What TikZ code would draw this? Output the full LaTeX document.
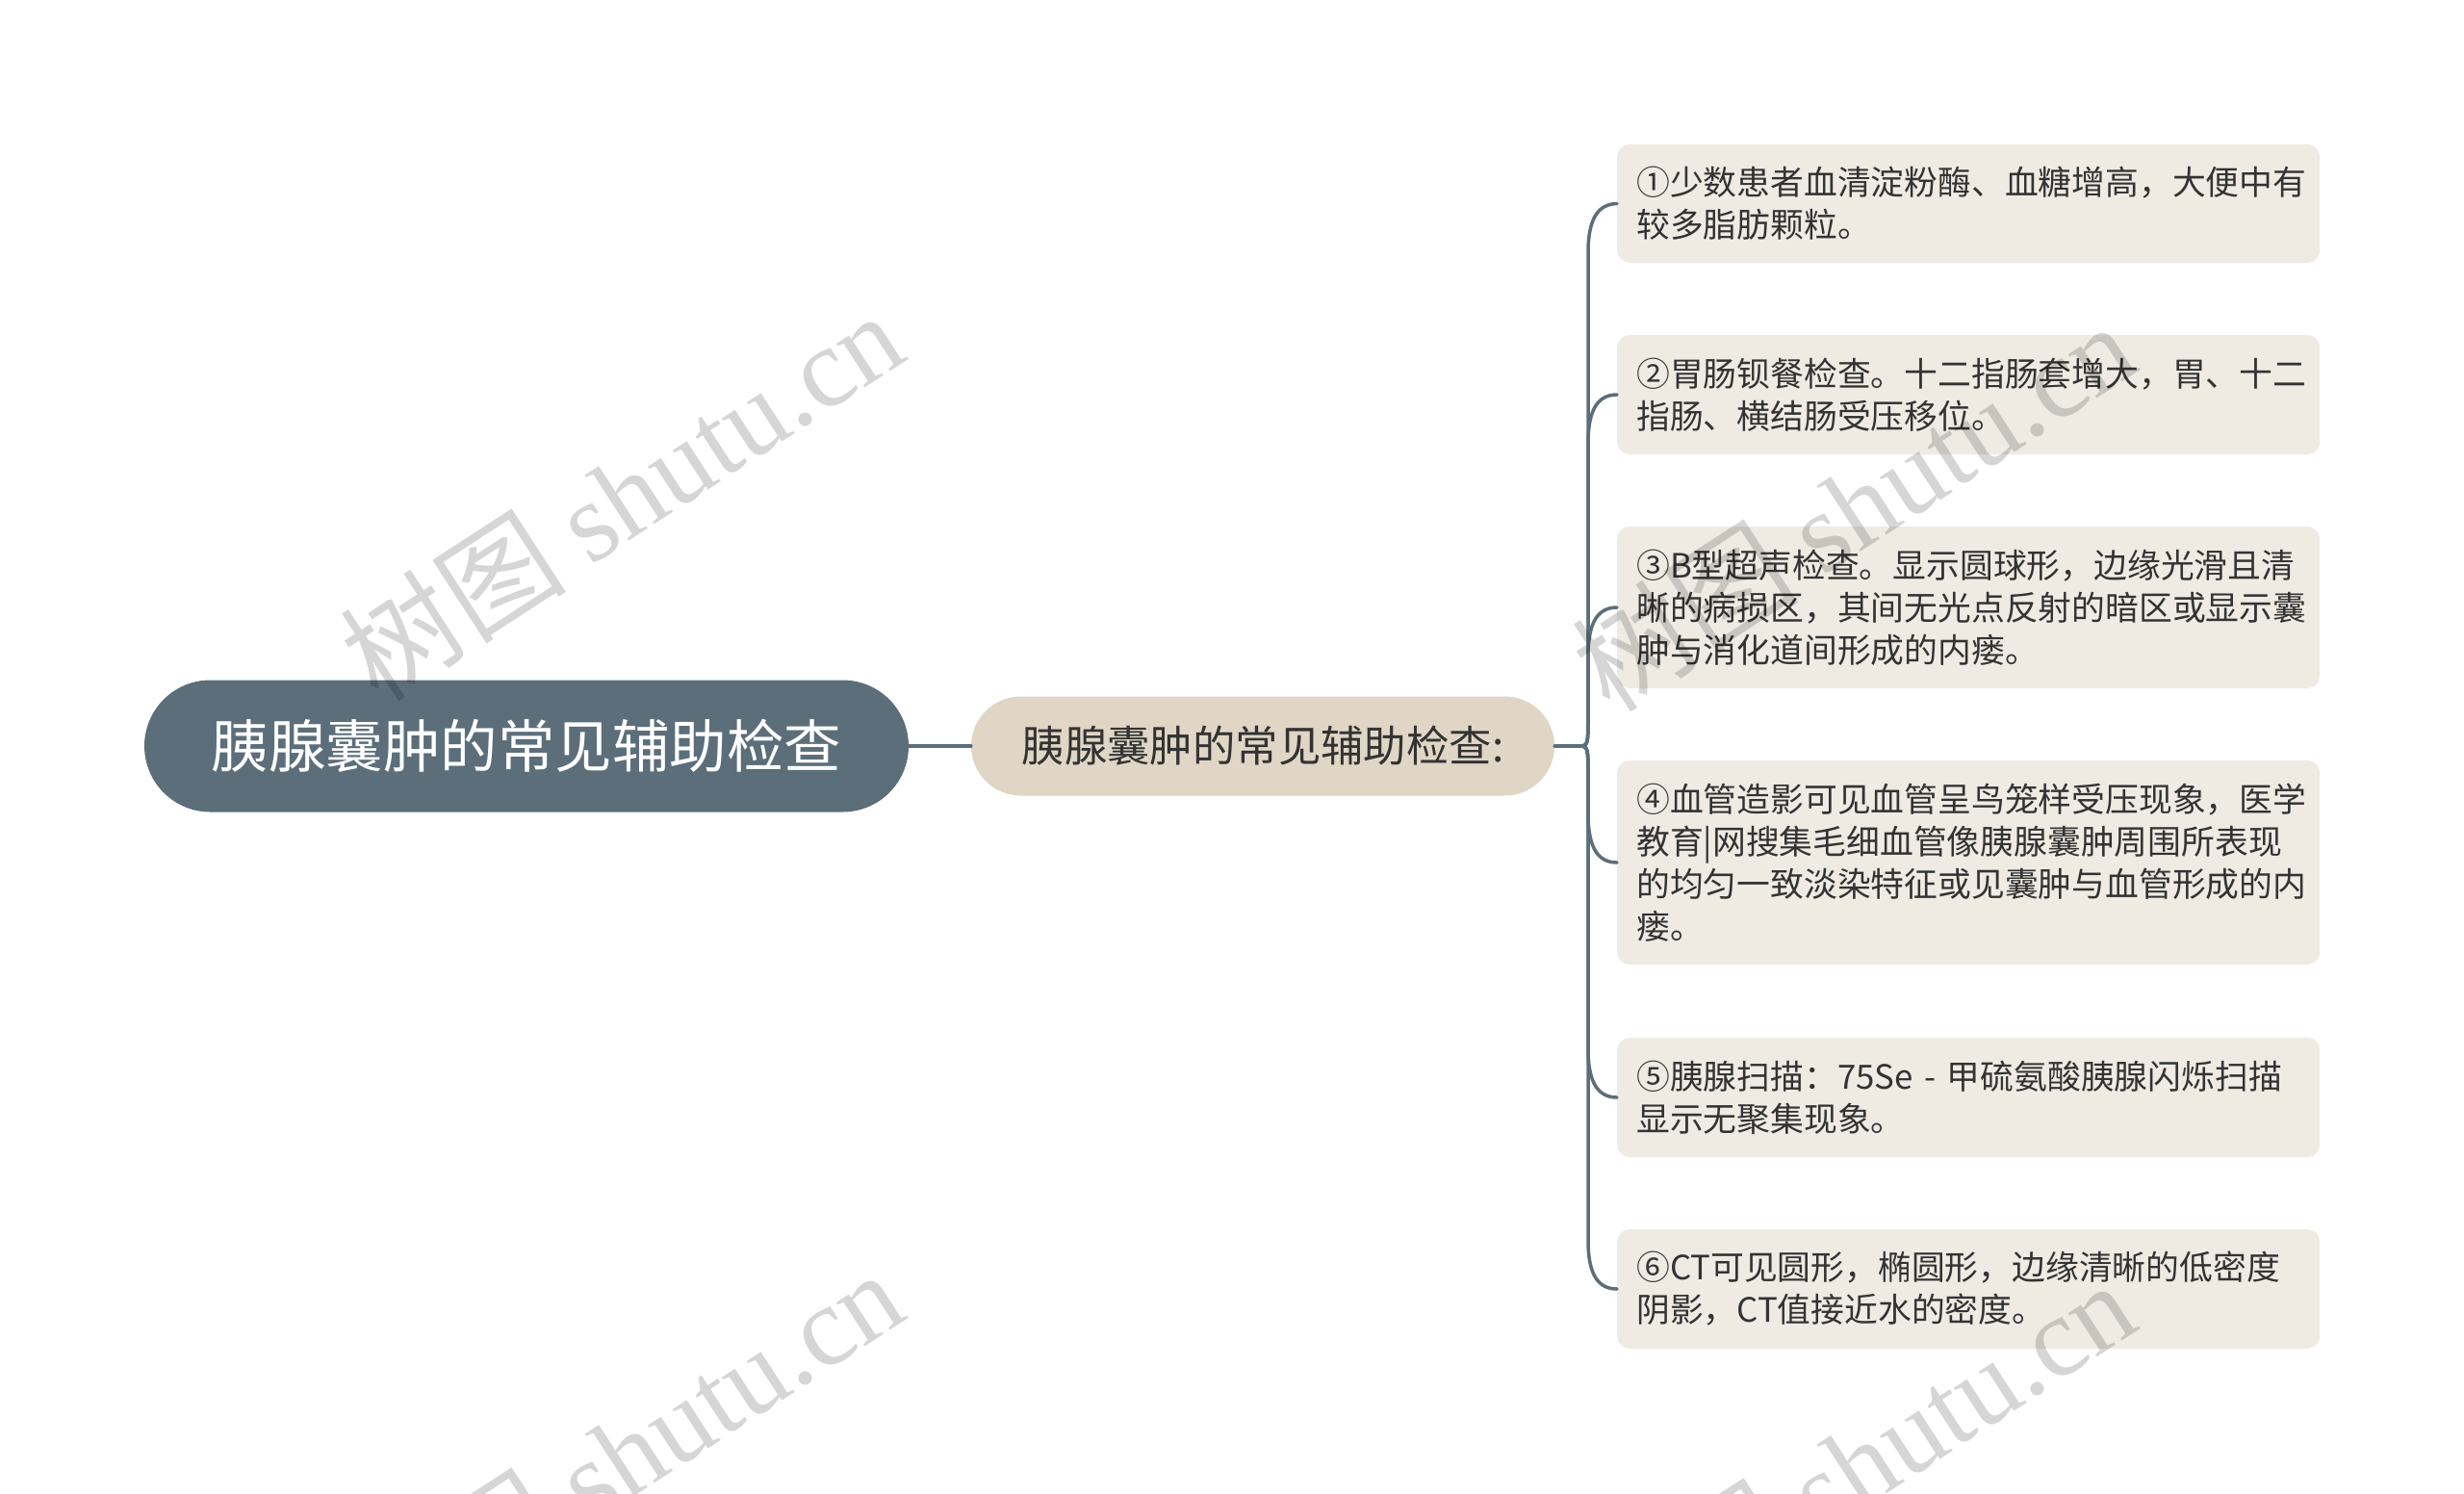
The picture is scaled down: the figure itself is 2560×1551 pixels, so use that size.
\documentclass[tikz,border=0pt]{standalone}
\usepackage{fontspec}
\setmainfont{Noto Sans CJK SC}
\newfontfamily\wmlatin{Liberation Serif}
\usetikzlibrary{shapes.misc}
\definecolor{rootc}{HTML}{5B6E7A}
\definecolor{subc}{HTML}{E0D6C5}
\definecolor{leafc}{HTML}{EFEBE3}
\definecolor{linec}{HTML}{5B6E7A}
\definecolor{txtc}{HTML}{333333}
\begin{document}
\begin{tikzpicture}[x=1pt,y=-1pt,
  rootbox/.style={rounded rectangle, fill=rootc, text=white, minimum width=794pt, minimum height=137pt, inner sep=0pt, font=\fontsize{59.5}{70}\selectfont},
  subbox/.style={rounded rectangle, fill=subc, text=txtc, minimum width=606pt, minimum height=103pt, inner sep=0pt, font=\fontsize{44.4}{52}\selectfont},
  leafbox/.style={rectangle, rounded corners=13pt, fill=leafc, text=txtc, anchor=west, align=left, text width=690pt, inner xsep=20pt, inner ysep=0pt, font=\fontsize{34.8}{44}\selectfont},
  conn/.style={draw=linec, line width=3.5pt, line cap=round},
  wm/.style={rotate=33, text=black, opacity=0.16, font=\fontsize{118}{120}\selectfont}]
\useasboundingbox (0,0) rectangle (2560,1551);
\fill[white] (0,0) rectangle (2560,1551);

\node[rootbox] (root) at (547,775) {胰腺囊肿的常见辅助检查};
\node[subbox] (sub) at (1312,775) {胰腺囊肿的常见辅助检查:};

\node[leafbox, minimum height=123pt] (l1) at (1680,211.5) {①少数患者血清淀粉酶、血糖增高，大便中有\\较多脂肪颗粒。};
\node[leafbox, minimum height=124pt] (l2) at (1680,410) {②胃肠钡餐检查。十二指肠套增大，胃、十二\\指肠、横结肠受压移位。};
\node[leafbox, minimum height=168pt] (l3) at (1680,631) {③B型超声检查。显示圆球形，边缘光滑且清\\晰的病损区，其间无光点反射的暗区或显示囊\\肿与消化道间形成的内瘘。};
\node[leafbox, minimum height=212pt] (l4) at (1680,896) {④血管造影可见血管呈鸟笼样受压现象，医学\\教育|网搜集毛细血管像胰腺囊肿周围所表现\\的均匀一致淡染特征或见囊肿与血管形成的内\\瘘。};
\node[leafbox, minimum height=124pt] (l5) at (1680,1140) {⑤胰腺扫描：75Se - 甲硫氨酸胰腺闪烁扫描\\显示无聚集现象。};
\node[leafbox, minimum height=124pt] (l6) at (1680,1339) {⑥CT可见圆形，椭圆形，边缘清晰的低密度\\阴影，CT值接近水的密度。};

\coordinate (J) at (1640,775);
\draw[conn] (root.east) -- (sub.west);
\draw[conn] (sub.east) -- (J);
\draw[conn] (J) .. controls (1650,775) .. (1650,740) -- (1650,262) .. controls (1650,226) and (1661,212) .. (l1.west);
\draw[conn] (J) .. controls (1650,775) .. (1650,740) -- (1650,460) .. controls (1650,424) and (1661,410) .. (l2.west);
\draw[conn] (J) .. controls (1650,775) .. (1650,740) -- (1650,681) .. controls (1650,645) and (1661,631) .. (l3.west);
\draw[conn] (J) .. controls (1650,775) .. (1650,810) -- (1650,846) .. controls (1650,882) and (1661,896) .. (l4.west);
\draw[conn] (J) .. controls (1650,775) .. (1650,810) -- (1650,1090) .. controls (1650,1126) and (1661,1140) .. (l5.west);
\draw[conn] (J) .. controls (1650,775) .. (1650,810) -- (1650,1289) .. controls (1650,1325) and (1661,1339) .. (l6.west);

\node[wm] (w1) at (645,514) {树图 {\wmlatin shutu.cn}};
\node[wm] (w2) at (1925,525) {树图 {\wmlatin shutu.cn}};
\node[wm] (w3) at (645,1510) {树图 {\wmlatin shutu.cn}};
\node[wm] (w4) at (1925,1521) {树图 {\wmlatin shutu.cn}};
\end{tikzpicture}
\end{document}
